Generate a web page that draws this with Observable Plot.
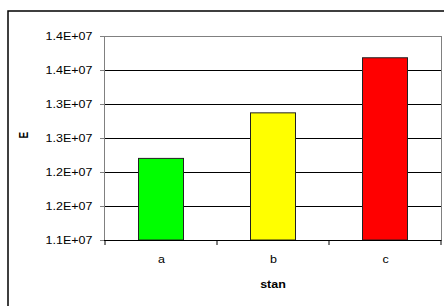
<!DOCTYPE html>
<html>
<head>
<meta charset="utf-8">
<script src="https://cdn.jsdelivr.net/npm/d3@7"></script>
<script src="https://cdn.jsdelivr.net/npm/@observablehq/plot@0.6"></script>
<style>
  html, body { margin: 0; padding: 0; background: #fff; overflow: hidden; }
  #chart { width: 444px; height: 306px; }
</style>
</head>
<body>
<div id="chart"></div>
<script>
const categories = ["a", "b", "c"];
const values = [12200000, 12870000, 13680000];
const barColors = ["#00ff00", "#ffff00", "#ff0000"];
const yDomain = [11000000, 14000000];
const yTicks = [11000000, 11500000, 12000000, 12500000, 13000000, 13500000, 14000000];
const yTickLabels = ["1.1E+07", "1.2E+07", "1.2E+07", "1.3E+07", "1.3E+07", "1.4E+07", "1.4E+07"];
const xTitle = "stan";
const yTitle = "E";

const data = categories.map((c, i) => ({cat: c, value: values[i], color: barColors[i]}));

// outer chart-area border (extends past right/bottom edge like the reference)
function outerBorder() {
  const r = document.createElementNS("http://www.w3.org/2000/svg", "rect");
  r.setAttribute("x", 8); r.setAttribute("y", 11);
  r.setAttribute("width", 460); r.setAttribute("height", 320);
  r.setAttribute("fill", "none"); r.setAttribute("stroke", "#000"); r.setAttribute("stroke-width", 1.5);
  return r;
}

// category tick marks at band boundaries
function xBoundaryTicks(index, scales, values, dims) {
  const g = d3.create("svg:g").attr("stroke", "#000");
  const xs = categories.map(c => scales.x(c)).concat([dims.width - dims.marginRight]);
  const y0 = dims.height - dims.marginBottom;
  for (const x of xs) {
    g.append("line").attr("x1", x).attr("x2", x).attr("y1", y0).attr("y2", y0 + 5);
  }
  return g.node();
}

const svg = Plot.plot({
  width: 444,
  height: 306,
  marginLeft: 104,
  marginRight: 3,
  marginTop: 36,
  marginBottom: 66,
  style: {fontFamily: "Arial, 'Liberation Sans', sans-serif", fontSize: "10px", background: "white", color: "#000"},
  x: {domain: categories, padding: 0, axis: null},
  y: {domain: yDomain, axis: null},
  color: {type: "identity"},
  marks: [
    outerBorder,
    Plot.ruleY(yTicks.slice(1, -1), {stroke: "#000", strokeWidth: 1}),
    Plot.barY(data, {x: "cat", y1: () => yDomain[0], y2: "value", fill: "color", stroke: "#222", strokeWidth: 1, insetLeft: 33.5, insetRight: 33.5}),
    Plot.frame({stroke: "#808080"}),
    Plot.ruleY([yDomain[0]], {stroke: "#000"}),
    Plot.axisY({ticks: yTicks, tickFormat: (d, i) => yTickLabels[i], tickSize: 4, tickPadding: 8, stroke: "#808080", fill: "#000", label: null}),
    xBoundaryTicks,
    Plot.text(categories, {x: d => d, frameAnchor: "bottom", dy: 22, fill: "#000", fontSize: 10}),
    Plot.text([xTitle], {frameAnchor: "bottom", dy: 47, fontWeight: "bold", fill: "#000", fontSize: 10}),
    Plot.text([yTitle], {frameAnchor: "left", dx: -82, rotate: -90, fontWeight: "bold", fill: "#000", fontSize: 10})
  ]
});
document.getElementById("chart").append(svg);

// the reference text is horizontally stretched; widen glyphs about their anchor
svg.querySelectorAll("text").forEach(t => {
  const r = t.getBoundingClientRect();
  const anchor = getComputedStyle(t).textAnchor;
  const sx = anchor === "end" ? r.right : anchor === "middle" ? (r.left + r.right) / 2 : r.left;
  const parent = t.parentNode;
  const m = parent.getScreenCTM().inverse();
  const p = svg.createSVGPoint(); p.x = sx; p.y = r.top;
  const lp = p.matrixTransform(m);
  const g = document.createElementNS("http://www.w3.org/2000/svg", "g");
  g.setAttribute("transform", `translate(${lp.x},0) scale(1.25,1) translate(${-lp.x},0)`);
  parent.insertBefore(g, t);
  g.appendChild(t);
});
</script>
</body>
</html>
